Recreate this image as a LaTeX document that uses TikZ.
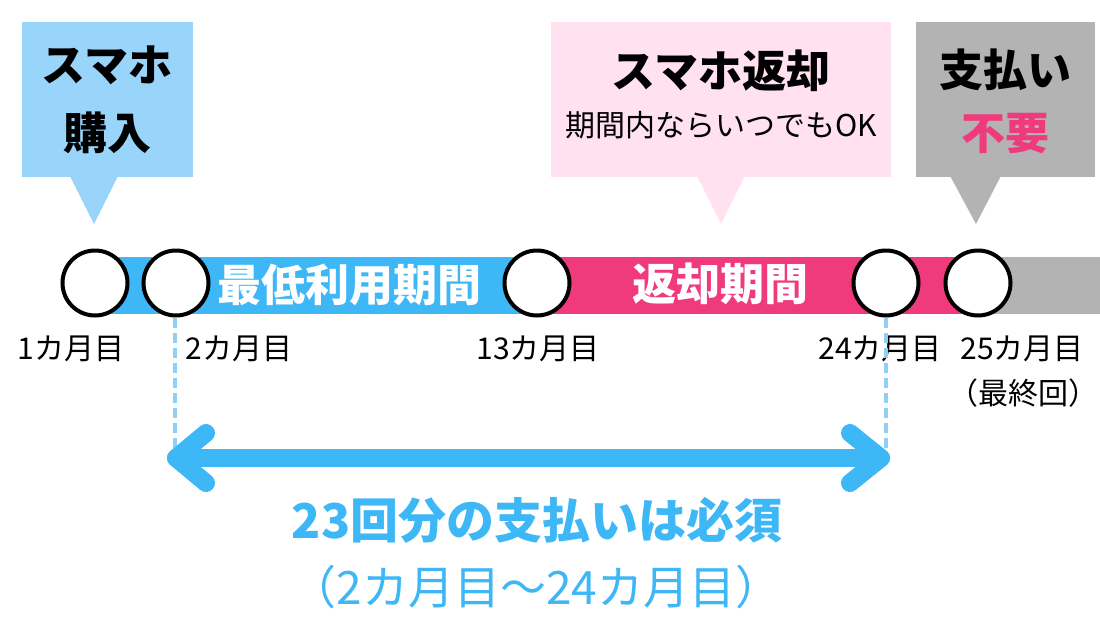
\documentclass[tikz,border=0pt]{standalone}
\usepackage{fontspec}
\setmainfont{Noto Sans CJK JP}
\definecolor{boxblue}{HTML}{99D4FB}
\definecolor{boxpink}{HTML}{FFE1F0}
\definecolor{boxgray}{HTML}{B3B3B3}
\definecolor{barblue}{HTML}{3DB7F5}
\definecolor{barpink}{HTML}{EF3A7C}
\definecolor{dashblue}{HTML}{8FD0F8}
\begin{document}
\begin{tikzpicture}[x=1pt,y=-1pt,
  month/.style={circle,draw=black,line width=4pt,fill=white,minimum size=65pt,inner sep=0pt},
  lbl/.style={anchor=base,inner sep=0pt,text=black,font=\fontsize{30}{30}\selectfont},
  title/.style={anchor=base,inner sep=0pt,text=black,font=\bfseries\fontsize{44}{44}\selectfont},
  bartext/.style={anchor=base,inner sep=0pt,text=white,font=\bfseries\fontsize{44}{44}\selectfont},
  callout/.style={anchor=north west,inner sep=0pt,minimum height=155pt},
  arrowline/.style={draw=barblue,line width=18pt,line cap=round,line join=round},
  guide/.style={draw=dashblue,line width=3.2pt,dash pattern=on 10pt off 5pt}]
\useasboundingbox (0,0) rectangle (1100,629);
% bars
\fill[barblue] (95,257) rectangle (537,314);
\fill[barpink] (537,257) rectangle (978,314);
\fill[boxgray] (978,257) rectangle (1100,314);
% callout boxes
\node[callout,fill=boxblue,minimum width=171pt] (buy) at (22,22) {};
\fill[boxblue] (68,172) -- (120,172) -- (94,224) -- cycle;
\node[callout,fill=boxpink,minimum width=340pt] (ret) at (551,22) {};
\fill[boxpink] (695,172) -- (747,172) -- (721,224) -- cycle;
\node[callout,fill=boxgray,minimum width=179pt] (pay) at (916,22) {};
\fill[boxgray] (948,172) -- (1003,172) -- (976,224) -- cycle;
% callout texts
\node[title] (t1) at (107,81) {スマホ};
\node[title] (t2) at (107,149) {購入};
\node[title] (t3) at (721,87) {スマホ返却};
\node[anchor=base,inner sep=0pt,font=\fontsize{30}{30}\selectfont] (t4) at (721,136) {期間内ならいつでもOK};
\node[title] (t5) at (1005,86) {支払い};
\node[title,text=barpink] (t6) at (1005,149) {不要};
% bar texts
\node[bartext] (b1) at (349,301) {最低利用期間};
\node[bartext] (b2) at (720,300) {返却期間};
% circles
\node[month] (m1) at (95,283) {};
\node[month] (m2) at (176,283) {};
\node[month] (m13) at (537,283) {};
\node[month] (m24) at (886,283) {};
\node[month] (m25) at (978,283) {};
% labels
\node[lbl] (l1) at (71,359) {1カ月目};
\node[lbl] (l2) at (239,359) {2カ月目};
\node[lbl] (l13) at (538,359) {13カ月目};
\node[lbl] (l24) at (880,359) {24カ月目};
\node[lbl] (l25) at (1022,359) {25カ月目};
\node[lbl] (l25b) at (1023,404) {（最終回）};
% guides
\coordinate (g2) at (175,448);
\coordinate (g24) at (886,450);
\draw[guide] (m2.south -| g2) -- (g2);
\draw[guide] (m24.south) -- (g24);
% double arrow
\coordinate (aL) at (176,458);
\coordinate (aR) at (881,458);
\draw[arrowline] (aL) -- (aR);
\draw[arrowline] (206,433) -- (aL) -- (206,483);
\draw[arrowline] (850,433) -- (aR) -- (850,483);
% bottom texts
\node[anchor=base,inner sep=0pt,text=barblue,font=\bfseries\fontsize{48}{48}\selectfont] (s1) at (537,538) {23回分の支払いは必須};
\node[anchor=base,inner sep=0pt,text=barblue,font=\fontsize{46}{46}\selectfont] (s2) at (536,604) {（2カ月目〜24カ月目）};
\end{tikzpicture}
\end{document}
